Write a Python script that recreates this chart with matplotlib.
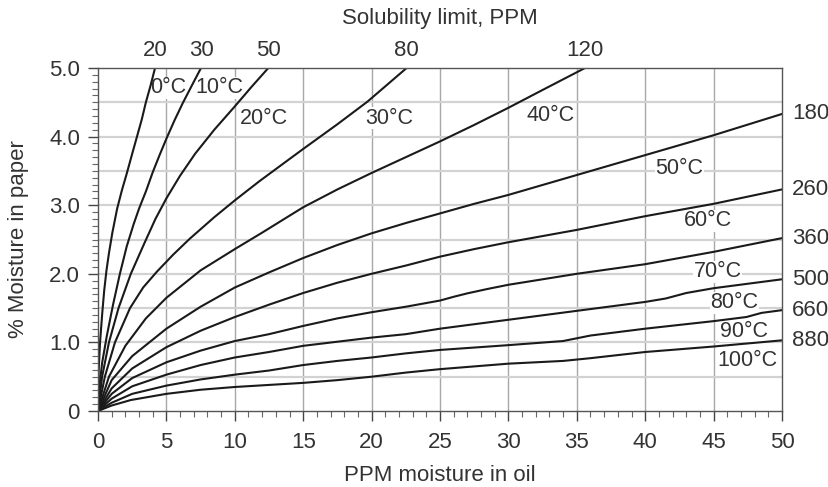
import matplotlib.pyplot as plt
import matplotlib.transforms as mtransforms
from matplotlib.ticker import MultipleLocator

# curves: (ppm in oil, % moisture in paper)
temps = ["0°C", "10°C", "20°C", "30°C", "40°C", "50°C", "60°C", "70°C", "80°C", "90°C", "100°C"]

x0 = [0, 0.05, 0.15, 0.3, 0.45, 0.62, 0.8, 1.05, 1.4, 1.75, 2.1, 2.5, 2.85, 3.2, 3.5, 3.85, 4.17]
y0 = [0, 0.6, 1.0, 1.4, 1.75, 2.05, 2.3, 2.6, 2.95, 3.22, 3.46, 3.75, 4.0, 4.25, 4.5, 4.75, 5.0]
x10 = [0, 0.1, 0.3, 0.65, 1.1, 1.6, 2.1, 2.6, 3.0, 3.5, 4.0, 4.5, 5.0, 5.6, 6.2, 6.9, 7.53]
y10 = [0, 0.35, 0.7, 1.1, 1.55, 2.0, 2.4, 2.72, 2.95, 3.2, 3.48, 3.73, 3.97, 4.24, 4.49, 4.76, 5.0]
x20 = [0, 0.3, 0.8, 1.5, 2.4, 3.4, 4.2, 5.0, 6.0, 7.1, 8.5, 10.0, 11.2, 12.45]
y20 = [0, 0.5, 1.0, 1.5, 2.0, 2.45, 2.8, 3.1, 3.43, 3.75, 4.1, 4.44, 4.72, 5.0]
x30 = [0, 0.5, 1.24, 2.34, 3.3, 4.3, 5.5, 6.7, 8.5, 10, 11.8, 13.5, 15, 17.5, 19.7, 22.56]
y30 = [0, 0.5, 1.0, 1.5, 1.8, 2.03, 2.28, 2.51, 2.825, 3.07, 3.35, 3.60, 3.82, 4.18, 4.51, 5.0]
x40 = [0, 0.8, 2, 3.5, 5, 7.5, 10, 12, 15, 17.5, 20, 22.5, 25, 27.5, 30, 32.5, 35.6]
y40 = [0, 0.5, 0.95, 1.35, 1.65, 2.05, 2.36, 2.6, 2.97, 3.23, 3.47, 3.70, 3.93, 4.17, 4.42, 4.68, 5.0]
x50 = [0, 1, 2.5, 5, 7.5, 10, 12.5, 15, 17.5, 20, 22.5, 25, 27.5, 30, 35, 40, 45, 50]
y50 = [0, 0.45, 0.8, 1.2, 1.52, 1.8, 2.02, 2.23, 2.42, 2.59, 2.74, 2.88, 3.02, 3.15, 3.44, 3.73, 4.02, 4.33]
x60 = [0, 1, 2.5, 5, 7.5, 10, 12.5, 15, 17.5, 20, 22.5, 25, 27.5, 30, 35, 40, 45, 50]
y60 = [0, 0.33, 0.62, 0.93, 1.17, 1.37, 1.55, 1.72, 1.87, 2.0, 2.12, 2.25, 2.36, 2.46, 2.64, 2.84, 3.02, 3.23]
x70 = [0, 1, 2.5, 5, 7.5, 10, 12.5, 15, 17.5, 20, 22.5, 25, 26, 27, 28.5, 30, 35, 40, 45, 50]
y70 = [0, 0.25, 0.48, 0.71, 0.88, 1.02, 1.12, 1.24, 1.35, 1.44, 1.52, 1.61, 1.665, 1.715, 1.78, 1.84, 2.0, 2.14, 2.32, 2.52]
x80 = [0, 1, 2.5, 5, 7.5, 10, 12.5, 15, 17.5, 20, 22.5, 25, 30, 35, 40, 41.5, 43, 45, 50]
y80 = [0, 0.18, 0.36, 0.53, 0.67, 0.78, 0.86, 0.95, 1.01, 1.07, 1.12, 1.20, 1.33, 1.46, 1.59, 1.64, 1.72, 1.79, 1.92]
x90 = [0, 1, 2.5, 5, 7.5, 10, 12.5, 15, 17.5, 20, 22.5, 25, 30, 34, 35, 36, 40, 45, 47.4, 48.5, 50]
y90 = [0, 0.12, 0.25, 0.37, 0.46, 0.53, 0.59, 0.67, 0.73, 0.78, 0.84, 0.89, 0.96, 1.02, 1.06, 1.10, 1.20, 1.31, 1.37, 1.43, 1.47]
x100 = [0, 1, 2.4, 5, 7.5, 10, 12.5, 15, 17.5, 20, 22.5, 25, 30, 34, 36, 40, 45, 50]
y100 = [0, 0.08, 0.16, 0.25, 0.31, 0.35, 0.38, 0.41, 0.45, 0.50, 0.56, 0.61, 0.69, 0.73, 0.77, 0.86, 0.94, 1.03]

xs = [x0, x10, x20, x30, x40, x50, x60, x70, x80, x90, x100]
ys = [y0, y10, y20, y30, y40, y50, y60, y70, y80, y90, y100]

# solubility limits (ppm) at the curve ends
top_limits = ["20", "30", "50", "80", "120"]
right_limits = ["180", "260", "360", "500", "660", "880"]

# where the temperature labels sit (data coords)
label_x = [5.1, 8.9, 12.1, 21.3, 33.1, 42.5, 44.6, 45.3, 46.5, 47.2, 47.5]
label_y = [4.71, 4.71, 4.27, 4.27, 4.31, 3.53, 2.77, 2.03, 1.58, 1.16, 0.73]

plt.rcParams['font.family'] = ['Liberation Sans', 'DejaVu Sans']
txt = '#333333'

fig = plt.figure(figsize=(8.29, 4.87), dpi=100)
ax = fig.add_axes([98/829, 1-411/487, 684/829, 343/487])

ax.set_xlim(0, 50)
ax.set_ylim(0, 5.0)

# grid
for gx in range(5, 50, 5):
    ax.axvline(gx, color='#a8a8a8', lw=1.0, zorder=0)
for gy in [0.5, 1.0, 1.5, 2.0, 2.5, 3.0, 3.5, 4.0, 4.5]:
    ax.axhline(gy, color='#d2d2d2', lw=1.6, zorder=0)

for x, y in zip(xs, ys):
    ax.plot(x, y, color='#1a1a1a', lw=1.5, zorder=2, solid_joinstyle='round')

# labels mask the grid but sit under the curves
for t, lx, ly in zip(temps, label_x, label_y):
    ax.text(lx, ly, t, fontsize=15.5, ha='center', va='center', color=txt, zorder=1.5,
            bbox=dict(facecolor='white', edgecolor='none', pad=0.3))

# top labels: solubility limit where the curve leaves the top edge
trans_top = mtransforms.blended_transform_factory(ax.transData, ax.transAxes)
for lab, x in zip(top_limits, xs[:5]):
    ax.text(x[-1], 1 + 18/343, lab, transform=trans_top, fontsize=16, ha='center', va='center', color=txt)
ax.text(25, 1 + 50/343, "Solubility limit, PPM", transform=trans_top, fontsize=16,
        ha='center', va='center', color=txt)

trans_right = mtransforms.blended_transform_factory(ax.transAxes, ax.transData)
for lab, y in zip(right_limits, ys[5:]):
    ax.text(1.015, y[-1], lab, transform=trans_right, fontsize=16, ha='left', va='center', color=txt)

ax.xaxis.set_major_locator(MultipleLocator(5))
ax.xaxis.set_minor_locator(MultipleLocator(1))
ax.yaxis.set_minor_locator(MultipleLocator(0.1))
ax.set_yticks([0, 1, 2, 3, 4, 5])
ax.set_yticklabels(["0", "1.0", "2.0", "3.0", "4.0", "5.0"])
ax.tick_params(which='major', length=7, width=1.0, color='#444444', labelsize=16, labelcolor=txt)
ax.tick_params(which='minor', length=4, width=0.8, color='#666666')
ax.tick_params(axis='x', pad=8)
ax.tick_params(axis='y', pad=6)

for s in ax.spines.values():
    s.set_color('#555555')
    s.set_linewidth(1.0)

ax.set_xlabel("PPM moisture in oil", fontsize=16, color=txt, labelpad=9)
ax.set_ylabel("% Moisture in paper", fontsize=16, color=txt, labelpad=14)

fig.savefig("out.png", dpi=100)
